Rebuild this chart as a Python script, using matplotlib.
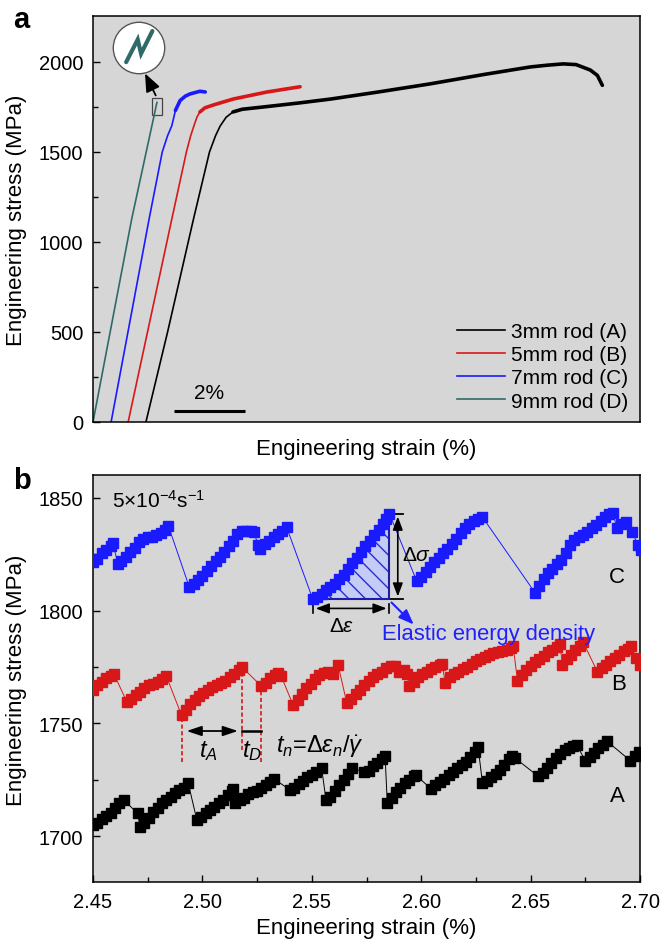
import numpy as np
import matplotlib
matplotlib.use("Agg")
import matplotlib.pyplot as plt
from matplotlib.patches import Circle, Rectangle

plt.rcParams['font.family'] = ['Liberation Sans', 'DejaVu Sans']
plt.rcParams['mathtext.fontset'] = 'custom'
plt.rcParams['mathtext.rm'] = 'Liberation Sans'
plt.rcParams['mathtext.it'] = 'Liberation Sans:italic'
plt.rcParams['hatch.linewidth'] = 1.0

# ---- panel a: full stress-strain curves (strain %, stress MPa)
a_strain = [1.49, 2.10, 2.83, 3.28, 3.45, 3.58, 3.75, 3.94, 4.20, 4.90, 5.80, 6.70, 8.00,
            9.49, 11.00, 12.31, 12.80, 13.24, 13.60, 14.00, 14.20, 14.34]
a_stress = [0, 500, 1128, 1500, 1590, 1644, 1693, 1722, 1737, 1752, 1772, 1794, 1832,
            1878, 1930, 1972, 1982, 1989, 1985, 1955, 1925, 1870]
b_strain = [0.99, 2.22, 2.63, 2.75, 2.85, 2.93, 3.01, 3.15, 3.39, 3.95, 4.90, 5.83]
b_stress = [0, 1128, 1500, 1590, 1650, 1695, 1722, 1745, 1761, 1794, 1833, 1862]
c_strain = [0.51, 1.58, 1.95, 2.10, 2.22, 2.32, 2.45, 2.60, 2.73, 3.01, 3.16]
c_stress = [0, 1128, 1500, 1590, 1646, 1730, 1785, 1810, 1822, 1837, 1833]
d_strain = [0.0, 1.09, 1.80]
d_stress = [0, 1128, 1775]
rod_labels = ["3mm rod (A)", "5mm rod (B)", "7mm rod (C)", "9mm rod (D)"]

# ---- panel b: serrated flow (zoom)
A_x = [2.450, 2.452, 2.454, 2.456, 2.458, 2.460, 2.462, 2.464,
       2.4705, 2.4715, 2.4735, 2.4755, 2.4775, 2.4795, 2.4815, 2.4835, 2.4855, 2.4875, 2.4895, 2.4915, 2.4935,
       2.4975, 2.4995, 2.5015, 2.5035, 2.5055, 2.5075, 2.5095, 2.5115, 2.5135, 2.514,
       2.515, 2.517, 2.519, 2.521, 2.523, 2.525, 2.527, 2.529, 2.531, 2.5325,
       2.540, 2.542, 2.544, 2.546, 2.548, 2.550, 2.552, 2.5545,
       2.5565, 2.5585, 2.5605, 2.5625, 2.5645, 2.5665, 2.5685,
       2.574, 2.576, 2.578, 2.580, 2.582, 2.5835,
       2.5845, 2.5865, 2.5885, 2.5905, 2.5925, 2.5945, 2.5965, 2.5975,
       2.6045, 2.6065, 2.6085, 2.6105, 2.6125, 2.6145, 2.6165, 2.6185, 2.6205, 2.6225, 2.6245, 2.626,
       2.628, 2.630, 2.632, 2.634, 2.636, 2.638, 2.640, 2.6415, 2.643,
       2.6535, 2.6555, 2.6575, 2.6595, 2.6615, 2.6635, 2.6655, 2.6675, 2.6695, 2.671,
       2.675, 2.677, 2.679, 2.681, 2.683, 2.685,
       2.6955, 2.6975, 2.6995]
A_y = [1705, 1706, 1707.5, 1709, 1710, 1712.5, 1714.5, 1716,
       1710, 1704, 1706, 1708, 1710.5, 1712.5, 1714.5, 1716, 1717.5, 1719, 1720.5, 1721.5, 1723.5,
       1707, 1708.5, 1710, 1711.5, 1713, 1714.5, 1716, 1718, 1720, 1721,
       1714.5, 1716, 1717, 1718.5, 1719.5, 1720, 1721.5, 1722.5, 1724, 1725.5,
       1720.5, 1721.5, 1723, 1724.5, 1726, 1727, 1728.5, 1730,
       1716, 1717.5, 1720, 1722.5, 1725, 1727.5, 1730,
       1728.5, 1729, 1731, 1732.5, 1734, 1735.5,
       1714.5, 1717, 1719.5, 1721.5, 1723.5, 1725, 1726.5, 1727,
       1721, 1722.5, 1724, 1725.5, 1727, 1728.5, 1730, 1731.5, 1733, 1735, 1737.5, 1739.5,
       1723.5, 1724.5, 1726, 1727.5, 1729.5, 1731.5, 1734, 1735.5, 1734.5,
       1726.5, 1728, 1730, 1732.5, 1734.5, 1736.5, 1738, 1739, 1740, 1740.5,
       1733.5, 1735, 1737, 1739, 1740.5, 1742,
       1733.5, 1735.5, 1737.5]

B_x = [2.450, 2.452, 2.454, 2.456, 2.458, 2.4595,
       2.4655, 2.4675, 2.4695, 2.4715, 2.4735, 2.4755, 2.4775, 2.4795, 2.4815, 2.4835,
       2.4905, 2.4925, 2.4945, 2.4965, 2.4985, 2.5005, 2.5025, 2.5045, 2.5065, 2.5085, 2.5105,
       2.5125, 2.5145, 2.5165, 2.518,
       2.527, 2.529, 2.531, 2.533, 2.5345, 2.536,
       2.5415, 2.5435, 2.5455, 2.5475, 2.5495, 2.5515, 2.5535, 2.5555, 2.5575, 2.5595, 2.562,
       2.566, 2.568, 2.570, 2.572, 2.574, 2.576, 2.578, 2.580, 2.582, 2.584, 2.586, 2.588,
       2.590, 2.592, 2.5935,
       2.5945, 2.5965, 2.5985, 2.6005, 2.6025, 2.6045, 2.6065, 2.6085, 2.6095,
       2.611, 2.613, 2.615, 2.617, 2.619, 2.621, 2.623, 2.625, 2.627, 2.629, 2.631, 2.633,
       2.635, 2.637, 2.639, 2.641, 2.642,
       2.644, 2.646, 2.648, 2.650, 2.652, 2.654, 2.656, 2.658, 2.660, 2.662, 2.6635,
       2.6645, 2.6665, 2.6685, 2.6705, 2.6725, 2.674,
       2.6805, 2.6825, 2.6845, 2.6865, 2.6885, 2.6905, 2.6925, 2.6945, 2.696, 2.698, 2.700]
B_y = [1765, 1767, 1768.5, 1770, 1771, 1772,
       1759.5, 1761, 1762.5, 1764, 1765.5, 1767, 1767.5, 1768.5, 1769.5, 1771,
       1753.5, 1756, 1758.5, 1760.5, 1762, 1763.5, 1765, 1766, 1767, 1768, 1769,
       1770.5, 1772, 1773.5, 1775,
       1766.5, 1768, 1770, 1771.5, 1772.5, 1771,
       1758, 1760.5, 1763, 1765.5, 1767.5, 1769.5, 1771.5, 1772.5, 1773, 1772, 1776,
       1759, 1761, 1763, 1765, 1767, 1769, 1770.5, 1772, 1773, 1774.5, 1775.5, 1775.5,
       1773, 1773.5, 1772,
       1766.5, 1768.5, 1770.5, 1772, 1773, 1774, 1775, 1776, 1776.5,
       1768, 1770.5, 1772, 1773, 1774, 1775, 1776.5, 1777.5, 1778.5, 1779.5, 1780.5, 1781,
       1781.5, 1782, 1782.5, 1783.5, 1784.5,
       1769, 1771.5, 1773.5, 1775.5, 1777, 1778.5, 1780, 1781.5, 1782.5, 1784, 1785,
       1776, 1778.5, 1780.5, 1782.5, 1784.5, 1786,
       1773, 1774.5, 1776, 1777.5, 1779, 1780.5, 1782, 1783, 1784.5, 1779, 1776]

C_x = [2.450, 2.452, 2.454, 2.456, 2.458, 2.459,
       2.4615, 2.463, 2.465, 2.467, 2.469, 2.471, 2.473, 2.475, 2.477, 2.479, 2.481, 2.483, 2.4845,
       2.494, 2.496, 2.498, 2.500, 2.502, 2.504, 2.506, 2.508, 2.510, 2.512, 2.514, 2.516,
       2.518, 2.520, 2.522, 2.5235,
       2.5255, 2.5265, 2.5285, 2.5305, 2.5325, 2.5345, 2.5365, 2.5385,
       2.5505, 2.5525, 2.5545, 2.5565, 2.5585, 2.5605, 2.5625, 2.5645, 2.5665, 2.5685, 2.5705,
       2.5725, 2.5745, 2.5765, 2.5785, 2.5805, 2.5825, 2.584, 2.5855,
       2.598, 2.600, 2.602, 2.604, 2.606, 2.608, 2.610, 2.612, 2.614, 2.616, 2.618, 2.620,
       2.622, 2.624, 2.626, 2.628,
       2.652, 2.654, 2.656, 2.658, 2.660, 2.662, 2.664, 2.666, 2.668, 2.670, 2.672, 2.674,
       2.676, 2.678, 2.680, 2.682, 2.684, 2.686, 2.6875,
       2.6895, 2.6915, 2.6935, 2.6965, 2.699, 2.7005]
C_y = [1821.5, 1823, 1825.5, 1827, 1828.5, 1830,
       1820.5, 1822, 1824, 1826, 1828, 1830.5, 1832, 1832.5, 1832.5, 1833.5, 1834.5, 1836, 1837.5,
       1810.5, 1812, 1813.5, 1815.5, 1817.5, 1820, 1822, 1824, 1826, 1828.5, 1831, 1834,
       1835.5, 1835.5, 1835.5, 1835,
       1829, 1827.5, 1829.5, 1831, 1832.5, 1834, 1835.5, 1837,
       1805, 1806, 1807.5, 1809, 1810.5, 1812, 1814, 1816, 1818.5, 1821, 1823.5,
       1826, 1828.5, 1831, 1833.5, 1836, 1838.5, 1840.5, 1843,
       1813, 1815, 1817, 1819.5, 1821.5, 1823.5, 1825.5, 1827.5, 1829.5, 1832, 1834.5, 1836.5,
       1838.5, 1840, 1840.5, 1841.5,
       1808, 1811, 1814, 1816.5, 1818.5, 1820.5, 1822.5, 1825.5, 1829, 1831.5, 1832.5, 1833.5,
       1835, 1836.5, 1838, 1840, 1841.5, 1843, 1843.5,
       1836.5, 1838.5, 1839.5, 1835, 1829, 1827]

# dashed markers of the serration durations on curve B
dash_x = [2.4905, 2.518, 2.527]
dash_top = [1753, 1775, 1766]
dash_bottom = [1733, 1738, 1733]

# triangle of elastic energy density on curve C
tri_start, tri_end, tri_base, tri_top = 2.5505, 2.5855, 1805, 1843

W, H = 662, 945
fig = plt.figure(figsize=(W / 100, H / 100), dpi=100)
ax1 = fig.add_axes([93 / W, 1 - 423 / H, 547 / W, 406 / H])
ax2 = fig.add_axes([93 / W, 1 - 883 / H, 547 / W, 407 / H])
bg = '#d6d6d6'
teal = '#2e6b68'

for ax in (ax1, ax2):
    ax.set_facecolor(bg)
    for s in ax.spines.values():
        s.set_linewidth(1.1)
    ax.tick_params(which='both', direction='in', labelsize=14.5, width=1, pad=7)
    ax.tick_params(which='major', length=5)
    ax.tick_params(which='minor', length=3.5)

# ---------------- panel a
colors = ['black', '#d81818', '#1a1aff', teal]
curves = [(a_strain, a_stress), (b_strain, b_stress), (c_strain, c_stress), (d_strain, d_stress)]
for (xs, ys), col, lab in zip(curves, colors, rod_labels):
    ax1.plot(xs, ys, color=col, lw=1.2, label=lab)
    xs_arr, ys_arr = np.array(xs), np.array(ys)
    plastic = ys_arr > 1715
    if plastic.sum() > 1:
        ax1.plot(xs_arr[plastic], ys_arr[plastic], color=col, lw=2.6,
                 solid_capstyle='round', solid_joinstyle='round')

ax1.set_xlim(0, 15.4)
ax1.set_ylim(0, 2255)
ax1.set_xticks([])
ax1.set_yticks([0, 500, 1000, 1500, 2000])
ax1.set_yticks([250, 750, 1250, 1750], minor=True)

leg = ax1.legend(loc='lower right', frameon=False, fontsize=15, handlelength=2.3,
                 labelspacing=0.2, handletextpad=0.3, borderaxespad=0.15)

# scale bar
ax1.plot([2.28, 4.28], [63, 63], color='black', lw=2.2, solid_capstyle='butt')
ax1.text(3.28, 110, "2%", ha='center', va='bottom', fontsize=15)

# square + arrow + zoom circle
ax1.add_patch(Rectangle((1.66, 1706), 0.28, 94, fill=False, edgecolor='#444444', lw=0.9))
ax1.annotate("", xy=(1.43, 1950), xytext=(1.80, 1800),
             arrowprops=dict(arrowstyle='-|>,head_width=0.45,head_length=1.1', color='black', lw=1.3))
axc = fig.add_axes([112 / W, 1 - 76 / H, 54 / W, 54 / H])
axc.set_xlim(-1.05, 1.05)
axc.set_ylim(-1.05, 1.05)
axc.set_aspect('equal')
axc.axis('off')
axc.add_patch(Circle((0, 0), 1, facecolor='white', edgecolor='#555555', lw=1))
axc.plot([-0.5, -0.05, 0.08, 0.52], [-0.55, 0.33, -0.22, 0.66], color=teal, lw=3,
         solid_capstyle='round', solid_joinstyle='miter')

# ---------------- panel b
ax2.plot(A_x, A_y, color='black', lw=0.7, marker='s', ms=6.5, mec='black', mfc='black', zorder=3)
ax2.plot(B_x, B_y, color='#d81818', lw=0.7, marker='s', ms=6.5, mec='#d81818', mfc='#d81818', zorder=3)
ax2.plot(C_x, C_y, color='#1a1aff', lw=0.7, marker='s', ms=6.5, mec='#1a1aff', mfc='#1a1aff', zorder=3)

cx, cy = np.array(C_x), np.array(C_y)
m = (cx >= tri_start) & (cx <= tri_end)
ax2.fill_between(cx[m], cy[m], tri_base, facecolor='#c4ccf4', edgecolor='#2a2ad8',
                 hatch='\\\\', linewidth=0, zorder=2)
ax2.plot([tri_start, tri_end, tri_end], [tri_base, tri_base, tri_top], color='#1c1ca8', lw=1.5, zorder=2.5)

# delta sigma
ax2.plot([tri_end, 2.5915], [tri_top, tri_top], color='black', lw=1.3)
ax2.plot([tri_end, 2.5915], [tri_base, tri_base], color='black', lw=1.3)
ax2.annotate("", xy=(2.5893, tri_top), xytext=(2.5893, tri_base),
             arrowprops=dict(arrowstyle='<|-|>,head_width=0.3,head_length=0.8', color='black', lw=1.2))
ax2.text(2.5912, 1825, r"$\Delta\sigma$", fontsize=15, va='center', ha='left')
# delta epsilon
ax2.annotate("", xy=(tri_end, 1801), xytext=(tri_start, 1801),
             arrowprops=dict(arrowstyle='<|-|>,head_width=0.3,head_length=0.8', color='black', lw=1.2))
ax2.plot([tri_start, tri_start], [1799, 1803], color='black', lw=1.2)
ax2.plot([tri_end, tri_end], [1799, 1803], color='black', lw=1.2)
ax2.text(2.5635, 1793.5, r"$\Delta\varepsilon$", fontsize=15, ha='center', va='center')
# elastic energy density
ax2.annotate("", xy=(2.5975, 1793), xytext=(tri_end, 1804.5),
             arrowprops=dict(arrowstyle='-|>,head_width=0.35,head_length=0.9', color='#2020ff', lw=1.5))
ax2.text(2.5822, 1790, "Elastic energy density", color='#2020ff', fontsize=15.8, ha='left', va='center')

# serration durations
ax2.vlines(dash_x, dash_bottom, dash_top, colors='#d81818', linestyles=(0, (2.5, 1.5)), lw=1.2, zorder=2)
ax2.annotate("", xy=(2.5175, 1746.6), xytext=(2.4915, 1746.6),
             arrowprops=dict(arrowstyle='<|-|>,head_width=0.3,head_length=0.9', color='black', lw=1.3))
ax2.plot([2.518, 2.527], [1746.6, 1746.6], color='black', lw=1.8)
ax2.text(2.5025, 1738, r"$t_A$", fontsize=17, ha='center', va='center')
ax2.text(2.5225, 1738, r"$t_D$", fontsize=17, ha='center', va='center')
ax2.text(2.5335, 1740, r"$t_n$=$\Delta\varepsilon_n/\dot{\gamma}$", fontsize=17, ha='left', va='center')

ax2.text(2.4585, 1849, r"5$\times$10$^{-4}$s$^{-1}$", fontsize=15, ha='left', va='center')
ax2.text(2.6895, 1815, "C", fontsize=16, ha='center', va='center')
ax2.text(2.6900, 1767.5, "B", fontsize=16, ha='center', va='center')
ax2.text(2.6895, 1718, "A", fontsize=16, ha='center', va='center')

ax2.set_xlim(2.45, 2.70)
ax2.set_ylim(1679.6, 1860.2)
ax2.set_xticks([2.45, 2.50, 2.55, 2.60, 2.65, 2.70])
ax2.set_xticklabels(["2.45", "2.50", "2.55", "2.60", "2.65", "2.70"])
ax2.set_xticks([2.475, 2.525, 2.575, 2.625, 2.675], minor=True)
ax2.set_yticks([1700, 1750, 1800, 1850])
ax2.set_yticks([1725, 1775, 1825], minor=True)

# labels
fig.text(17 / W, 1 - 220 / H, "Engineering stress (MPa)", rotation=90, ha='center', va='center', fontsize=16)
fig.text(17 / W, 1 - 680 / H, "Engineering stress (MPa)", rotation=90, ha='center', va='center', fontsize=16)
fig.text(366 / W, 1 - 450 / H, "Engineering strain (%)", ha='center', va='center', fontsize=16)
fig.text(366 / W, 1 - 929 / H, "Engineering strain (%)", ha='center', va='center', fontsize=16)
fig.text(21 / W, 1 - 20 / H, "a", ha='center', va='center', fontsize=21, fontweight='bold')
fig.text(22 / W, 1 - 481 / H, "b", ha='center', va='center', fontsize=21, fontweight='bold')

fig.savefig("out.png", dpi=100)
